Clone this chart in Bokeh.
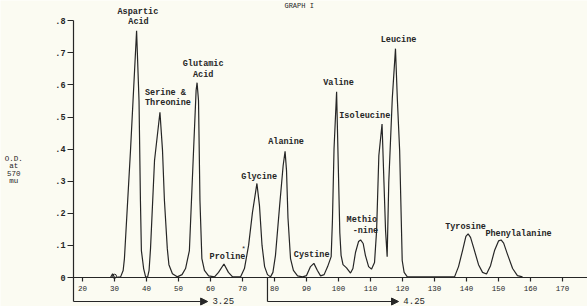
from bokeh.plotting import figure
from bokeh.models import Range1d, FixedTicker, Arrow, NormalHead
from bokeh.core.properties import value
from bokeh.embed import file_html
from bokeh.resources import INLINE

# ---- data (tube number vs O.D. at 570 mu) ----
tube = [28.75, 29.4, 30.0, 31.9, 32.7, 33.1, 35.0, 36.9, 37.66, 38.1, 38.4, 39.1, 39.7, 40.3,
        40.8, 41.25, 42.5, 44.2, 45.0, 45.6, 46.5, 47.0, 48.1, 49.6, 51.1, 52.2, 53.4, 54.7,
        55.5, 55.8, 56.25, 56.7, 57.3, 58.1, 59.4, 61.25, 62.5, 64.2, 65.6, 66.9, 69.4, 70.6,
        71.9, 73.1, 74.5, 75.3, 76.1, 76.9, 77.8, 78.75, 79.5, 80.3, 81.6, 82.7, 83.3, 83.75,
        84.2, 85.0, 85.9, 87.2, 88.75, 90.0, 91.25, 92.3, 93.4, 94.4, 95.5, 96.6, 97.7, 98.1,
        98.6, 99.4, 99.8, 100.4, 100.8, 101.4, 102.5, 103.75, 104.5, 105.3, 106.25, 106.9,
        107.7, 108.4, 109.4, 110.3, 111.25, 111.9, 112.6, 113.6, 114.2, 114.7, 115.2, 115.7,
        116.8, 117.8, 118.4, 119.1, 119.9, 120.5, 121.5, 136.25, 137.5, 138.75, 139.8, 140.5,
        141.25, 142.3, 143.75, 145.0, 146.25, 147.5, 148.75, 150.0, 150.8, 151.6, 152.8,
        154.4, 155.9, 157.5]
od = [0.0, 0.012, 0.0, 0.002, 0.022, 0.059, 0.396, 0.769, 0.551, 0.240, 0.084, 0.028, 0.003, 0.0,
      0.022, 0.090, 0.364, 0.515, 0.396, 0.240, 0.090, 0.040, 0.012, 0.002, 0.009, 0.028, 0.084, 0.396,
      0.583, 0.607, 0.551, 0.240, 0.059, 0.022, 0.005, 0.002, 0.016, 0.042, 0.016, 0.002, 0.002, 0.028,
      0.100, 0.202, 0.293, 0.224, 0.100, 0.034, 0.009, 0.002, 0.016, 0.069, 0.224, 0.349, 0.393, 0.333,
      0.187, 0.059, 0.022, 0.005, 0.002, 0.006, 0.034, 0.044, 0.022, 0.005, 0.009, 0.034, 0.065, 0.178,
      0.402, 0.579, 0.402, 0.140, 0.069, 0.040, 0.030, 0.014, 0.028, 0.078, 0.112, 0.117,
      0.106, 0.069, 0.034, 0.026, 0.047, 0.146, 0.380, 0.478, 0.296, 0.146, 0.065, 0.296,
      0.558, 0.713, 0.551, 0.396, 0.053, 0.016, 0.002, 0.002, 0.034, 0.084, 0.128, 0.136,
      0.125, 0.090, 0.040, 0.016, 0.011, 0.037, 0.084, 0.114, 0.117, 0.107, 0.072,
      0.028, 0.006, 0.002]

peak_names = ["Aspartic", "Acid", "Serine &", "Threonine", "Glutamic", "Acid", "Proline",
              "Glycine", "Alanine", "Cystine", "Valine", "Isoleucine", "Methio", "-nine",
              "Leucine", "Tyrosine", "Phenylalanine"]
name_x = [37.3, 37.5, 45.9, 46.7, 57.7, 57.7, 65.3, 75.2, 83.6, 91.6, 100.0, 108.2, 107.3,
          108.4, 118.75, 139.7, 156.25]
name_y = [0.827, 0.795, 0.574, 0.543, 0.665, 0.631, 0.065, 0.313, 0.421, 0.069, 0.605, 0.502,
          0.178, 0.146, 0.739, 0.157, 0.137]

x_ticks = [20, 30, 40, 50, 60, 70, 80, 90, 100, 110, 120, 130, 140, 150, 160, 170]
y_ticks = [0, 0.1, 0.2, 0.3, 0.4, 0.5, 0.6, 0.7, 0.8]
y_tick_labels = ["0", ".1", ".2", ".3", ".4", ".5", ".6", ".7", ".8"]

ylab_lines = ["O.D.", "at", "570", "mu"]
ylab_y = [0.369, 0.346, 0.323, 0.300]

buffer_labels = ["3.25", "4.25"]
buffer_start = [17.2, 77.8]
buffer_end = [59.1, 118.75]
buffer_y = -0.0748

INK = "#262626"
BG = "#fbfbf2"
MONO = "Liberation Mono"

p = figure(width=587, height=306, output_backend="svg", toolbar_location=None,
           x_range=Range1d(-5.625, 177.8), y_range=Range1d(-0.0903, 0.863),
           min_border=0, background_fill_color=BG, border_fill_color=BG)
p.outline_line_color = None
p.grid.visible = False

# axes
p.xaxis.fixed_location = 0
p.yaxis.fixed_location = buffer_start[0]
p.xaxis.bounds = (buffer_start[0], 180)
p.yaxis.bounds = (buffer_y, 0.8)
p.xaxis.ticker = FixedTicker(ticks=x_ticks)
p.yaxis.ticker = FixedTicker(ticks=y_ticks)
p.yaxis.major_label_overrides = {t: l for t, l in zip(y_ticks, y_tick_labels)}
for ax in (p.xaxis, p.yaxis):
    ax.axis_line_color = INK
    ax.axis_line_width = 1.2
    ax.major_tick_line_color = INK
    ax.major_tick_line_width = 1.2
    ax.major_tick_in = 0
    ax.minor_tick_line_color = None
    ax.major_label_text_color = INK
    ax.major_label_text_font = MONO
p.xaxis.major_tick_out = 4
p.xaxis.major_label_standoff = 4
p.xaxis.major_label_text_font_size = "7.5px"
p.yaxis.major_tick_out = 6
p.yaxis.major_label_standoff = 2
p.yaxis.major_label_text_font_size = "8.5px"
p.yaxis.major_label_text_font_style = "bold"

# chromatogram curve
p.line(tube, od, line_color=INK, line_width=1.2)
p.scatter([30.0], [0.004], size=4, marker="circle", fill_color=None, line_color=INK, line_width=1)

# peak labels
p.text(name_x, name_y, text=peak_names, text_font=value(MONO), text_font_style="bold",
       text_font_size="8.5px", text_align="center", text_baseline="middle", text_color=INK)
p.text([70.3], [0.088], text=["*"], text_font=value(MONO), text_font_size="7px",
       text_align="center", text_baseline="middle", text_color=INK)

# y axis label
p.text([-1.47] * len(ylab_lines), ylab_y, text=ylab_lines, text_font=value(MONO),
       text_font_size="7.5px", text_align="center", text_baseline="middle", text_color=INK)

# title at the top edge
p.text([87.7], [0.8595], text=["GRAPH I"], text_font=value(MONO), text_font_size="7px",
       text_align="center", text_baseline="top", text_color=INK)

# buffer change arrows
p.line([buffer_start[1], buffer_start[1]], [0, buffer_y], line_color=INK, line_width=1.2)
for xs, xe in zip(buffer_start, buffer_end):
    p.add_layout(Arrow(end=NormalHead(size=7, fill_color=INK, line_color=INK),
                       x_start=xs, y_start=buffer_y, x_end=xe, y_end=buffer_y,
                       line_color=INK, line_width=1.2))
p.text([e + 1.5 for e in buffer_end], [buffer_y + 0.002] * 2, text=buffer_labels,
       text_font=value(MONO), text_font_size="9px", text_align="left",
       text_baseline="middle", text_color=INK)

open("out.html", "w").write(file_html(p, INLINE))
